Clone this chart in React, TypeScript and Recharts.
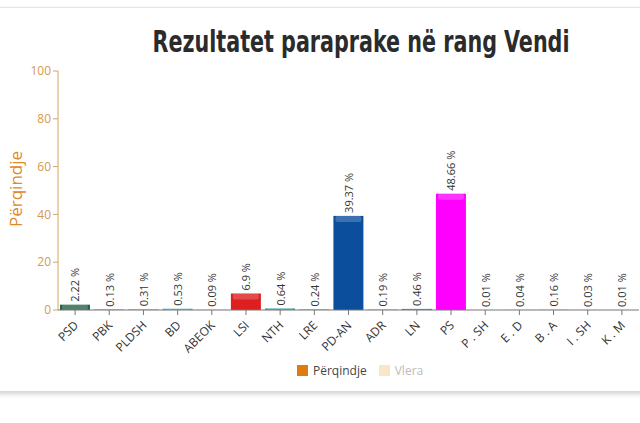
import { BarChart, Bar, XAxis, YAxis, Cell, LabelList } from 'recharts';

const parties = ['PSD', 'PBK', 'PLDSH', 'BD', 'ABEOK', 'LSI', 'NTH', 'LRE', 'PD-AN', 'ADR', 'LN', 'PS', 'P . SH', 'E . D', 'B . A', 'I . SH', 'K . M'];
const percentages = [2.22, 0.13, 0.31, 0.53, 0.09, 6.9, 0.64, 0.24, 39.37, 0.19, 0.46, 48.66, 0.01, 0.04, 0.16, 0.03, 0.01];
const barColors = ['#25634a', '#8c1c2c', '#9aa0b8', '#40a8c8', '#c0a0a0', '#dd1f1f', '#2a9a9a', '#8090a0', '#0b4f9c', '#6aaab0', '#4a6a8c', '#ff00ff', '#999999', '#999999', '#f0b860', '#aaaaaa', '#aaaaaa'];
const yTicks = [0, 20, 40, 60, 80, 100];

const data = parties.map((name, i) => ({ name, value: percentages[i] }));

const AXIS_GOLD = '#d6a55a';

function XTick({ x, y, payload }: any) {
  return (
    <text
      x={x + 4}
      y={y + 9}
      transform={`rotate(-45 ${x + 4} ${y + 9})`}
      textAnchor="end"
      fontSize={12}
      fill="#333"
      fontFamily="'Open Sans', sans-serif"
    >
      {payload.value}
    </text>
  );
}

function BarLabel({ x, y, width, value }: any) {
  const cx = x + width / 2;
  const ty = y - 3;
  return (
    <text
      x={cx}
      y={ty}
      transform={`rotate(-90 ${cx} ${ty})`}
      textAnchor="start"
      dominantBaseline="central"
      fontSize={11}
      fill="#333"
      fontFamily="'Open Sans', sans-serif"
    >
      {`${value} %`}
    </text>
  );
}

function GlossyBar({ x, y, width, height, fill }: any) {
  if (!height || height <= 0) return null;
  const hi = Math.min(6, height);
  return (
    <g>
      <rect x={x} y={y} width={width} height={height} fill={fill} />
      <rect x={x + 2} y={y} width={width - 4} height={hi} rx={2} fill="#fff" fillOpacity={0.2} />
    </g>
  );
}

function YLabel() {
  return (
    <text
      x={15}
      y={189}
      transform="rotate(-90 15 189)"
      textAnchor="middle"
      dominantBaseline="central"
      fontSize={17}
      fill="#e0892a"
      fontFamily="'Open Sans', sans-serif"
    >
      Përqindje
    </text>
  );
}

export default function App() {
  return (
    <div style={{ position: 'absolute', left: 0, top: 0, width: 640, height: 423, background: '#fff', overflow: 'hidden' }}>
      {/* card */}
      <div
        style={{
          position: 'absolute',
          left: -10,
          top: 7,
          width: 660,
          height: 383,
          borderTop: '1px solid #e6e6e6',
          boxShadow: '0 3px 5px rgba(0,0,0,0.18)',
          background: '#fff',
        }}
      />
      <div style={{ position: 'absolute', left: 0, top: 0 }}>
        <BarChart width={640} height={423} data={data} margin={{ top: 71, right: 1, left: 0, bottom: 63 }} barSize={30}>
          <YAxis
            width={58}
            domain={[0, 100]}
            ticks={yTicks}
            interval={0}
            tickSize={5}
            axisLine={{ stroke: AXIS_GOLD }}
            tickLine={{ stroke: AXIS_GOLD }}
            tick={{ fill: '#d49a4c', fontSize: 12, fontFamily: "'Open Sans', sans-serif" }}
            label={<YLabel />}
          />
          <XAxis
            dataKey="name"
            height={50}
            interval={0}
            tickSize={5}
            axisLine={{ stroke: '#777' }}
            tickLine={{ stroke: '#777' }}
            tick={<XTick />}
          />
          <Bar dataKey="value" isAnimationActive={false} shape={<GlossyBar />}>
            {data.map((_, i) => (
              <Cell key={`cell-${i}`} fill={barColors[i]} />
            ))}
            <LabelList dataKey="value" content={<BarLabel />} />
          </Bar>
        </BarChart>
      </div>
      <svg width={640} height={80} style={{ position: 'absolute', left: 0, top: 0 }}>
        <text
          transform="translate(361 52) scale(1 1.4)"
          x={0}
          y={0}
          textAnchor="middle"
          textLength={417}
          lengthAdjust="spacingAndGlyphs"
          fontSize={22}
          fontWeight="bold"
          fill="#2b2b2b"
          fontFamily="'DejaVu Sans Condensed', 'Liberation Sans Narrow', sans-serif"
        >
          Rezultatet paraprake në rang Vendi
        </text>
      </svg>
      {/* legend */}
      <div
        style={{
          position: 'absolute',
          top: 362,
          left: 297,
          display: 'flex',
          alignItems: 'center',
          fontFamily: "'Open Sans', sans-serif",
          fontSize: 12,
        }}
      >
        <span style={{ width: 11, height: 11, background: '#e07b10', display: 'inline-block', marginRight: 5 }} />
        <span style={{ color: '#444' }}>Përqindje</span>
        <span style={{ width: 11, height: 11, background: '#f8e6c8', display: 'inline-block', marginLeft: 12, marginRight: 5 }} />
        <span style={{ color: '#bbb' }}>Vlera</span>
      </div>
    </div>
  );
}
